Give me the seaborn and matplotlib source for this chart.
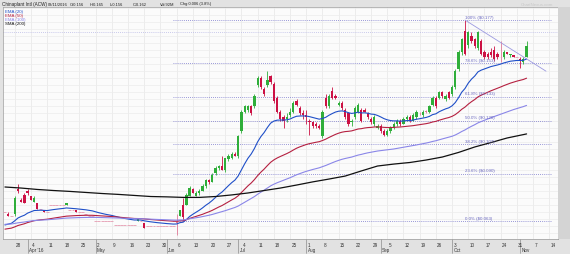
import numpy as np
import pandas as pd
import matplotlib
matplotlib.use("Agg")
import matplotlib.pyplot as plt
import seaborn as sns
from matplotlib.transforms import blended_transform_factory
from matplotlib.patches import Rectangle

sns.set_style("white")
plt.rcParams['font.family'] = ['Liberation Sans', 'DejaVu Sans']

# ---------------- data ----------------
dates = pd.bdate_range("2016-03-23", "2016-11-03")
opens = [0.068,0.067,0.066,0.067,0.081,0.075,0.078,0.080,0.077,0.074,
         0.073,0.070,0.069,0.068,0.072,0.072,0.072,0.072,0.072,0.072,
         0.069,0.069,0.069,0.068,0.068,0.067,0.066,0.066,0.063,0.063,
         0.063,0.063,0.063,0.063,0.061,0.061,0.061,0.061,0.061,0.061,
         0.061,0.063,0.063,0.062,0.060,0.060,0.060,0.060,0.060,0.060,
         0.060,0.060,0.060,0.062,0.066,0.072,0.072,0.077,0.081,0.077,
         0.079,0.080,0.083,0.086,0.085,0.090,0.093,0.094,0.092,0.098,
         0.099,0.101,0.100,0.114,0.125,0.126,0.128,0.128,0.140,0.144,
         0.138,0.140,0.145,0.141,0.133,0.125,0.122,0.121,0.123,0.125,
         0.131,0.127,0.124,0.123,0.120,0.119,0.118,0.117,0.111,0.133,
         0.128,0.137,0.134,0.129,0.130,0.126,0.124,0.119,0.122,0.125,
         0.126,0.126,0.124,0.121,0.118,0.116,0.117,0.114,0.112,0.114,
         0.116,0.118,0.120,0.118,0.121,0.122,0.120,0.122,0.124,0.123,
         0.125,0.125,0.129,0.133,0.133,0.136,0.132,0.136,0.135,0.139,
         0.149,0.159,0.171,0.163,0.168,0.166,0.161,0.165,0.159,0.158,
         0.159,0.160,0.158,0.157,0.156,0.159,0.157,0.157,0.156,0.155,
         0.153,0.156]
highs = [0.068,0.068,0.066,0.077,0.084,0.076,0.079,0.081,0.077,0.077,
         0.073,0.070,0.069,0.068,0.072,0.072,0.072,0.072,0.072,0.073,
         0.069,0.069,0.069,0.068,0.068,0.067,0.066,0.066,0.063,0.063,
         0.063,0.063,0.063,0.063,0.061,0.061,0.061,0.061,0.061,0.061,
         0.061,0.064,0.063,0.062,0.060,0.060,0.060,0.060,0.060,0.060,
         0.060,0.060,0.060,0.067,0.069,0.076,0.079,0.083,0.082,0.080,
         0.081,0.084,0.087,0.087,0.090,0.094,0.095,0.100,0.099,0.101,
         0.102,0.102,0.112,0.126,0.129,0.129,0.129,0.135,0.145,0.145,
         0.139,0.148,0.146,0.142,0.134,0.126,0.123,0.124,0.127,0.131,
         0.132,0.128,0.126,0.126,0.121,0.120,0.119,0.118,0.126,0.135,
         0.135,0.139,0.135,0.131,0.131,0.127,0.125,0.121,0.128,0.130,
         0.127,0.127,0.125,0.122,0.123,0.118,0.118,0.115,0.115,0.117,
         0.119,0.121,0.121,0.122,0.123,0.123,0.124,0.126,0.125,0.126,
         0.126,0.129,0.134,0.134,0.137,0.137,0.135,0.137,0.140,0.149,
         0.160,0.167,0.177,0.171,0.170,0.167,0.171,0.166,0.160,0.159,
         0.161,0.162,0.159,0.165,0.160,0.159,0.158,0.157,0.156,0.156,
         0.156,0.165]
lows =  [0.068,0.066,0.066,0.066,0.079,0.074,0.073,0.078,0.075,0.074,
         0.070,0.070,0.068,0.068,0.072,0.072,0.072,0.072,0.072,0.072,
         0.069,0.069,0.068,0.068,0.068,0.067,0.066,0.066,0.063,0.063,
         0.063,0.063,0.063,0.063,0.061,0.061,0.061,0.061,0.061,0.061,
         0.061,0.063,0.063,0.059,0.060,0.060,0.060,0.060,0.060,0.060,
         0.060,0.060,0.060,0.055,0.066,0.063,0.072,0.077,0.079,0.077,
         0.078,0.080,0.082,0.084,0.085,0.089,0.092,0.092,0.091,0.097,
         0.098,0.100,0.099,0.113,0.124,0.125,0.123,0.127,0.139,0.138,
         0.134,0.139,0.141,0.130,0.124,0.120,0.116,0.119,0.122,0.124,
         0.128,0.123,0.121,0.118,0.112,0.116,0.116,0.115,0.110,0.127,
         0.127,0.132,0.132,0.128,0.126,0.121,0.117,0.117,0.121,0.124,
         0.119,0.125,0.121,0.118,0.117,0.115,0.113,0.111,0.111,0.113,
         0.115,0.117,0.117,0.118,0.120,0.119,0.120,0.121,0.123,0.122,
         0.124,0.124,0.128,0.127,0.132,0.133,0.131,0.132,0.134,0.138,
         0.148,0.157,0.157,0.161,0.164,0.161,0.160,0.157,0.155,0.155,
         0.156,0.154,0.155,0.153,0.155,0.158,0.156,0.156,0.156,0.150,
         0.152,0.156]
closes = [0.068,0.066,0.066,0.076,0.080,0.074,0.073,0.079,0.075,0.076,
          0.070,0.070,0.068,0.068,0.072,0.072,0.072,0.072,0.072,0.073,
          0.069,0.069,0.068,0.068,0.068,0.067,0.066,0.066,0.063,0.063,
          0.063,0.063,0.063,0.063,0.061,0.061,0.061,0.061,0.061,0.061,
          0.061,0.064,0.063,0.059,0.060,0.060,0.060,0.060,0.060,0.060,
          0.060,0.060,0.060,0.062,0.069,0.065,0.078,0.082,0.079,0.079,
          0.080,0.083,0.086,0.085,0.089,0.093,0.094,0.092,0.099,0.100,
          0.101,0.100,0.111,0.125,0.128,0.128,0.124,0.134,0.144,0.139,
          0.135,0.143,0.142,0.131,0.125,0.121,0.120,0.122,0.125,0.130,
          0.129,0.124,0.123,0.122,0.119,0.117,0.117,0.116,0.125,0.128,
          0.134,0.133,0.133,0.130,0.127,0.122,0.118,0.120,0.127,0.129,
          0.120,0.125,0.122,0.119,0.122,0.117,0.114,0.112,0.114,0.116,
          0.118,0.120,0.118,0.121,0.122,0.120,0.123,0.125,0.124,0.125,
          0.125,0.128,0.133,0.128,0.136,0.134,0.134,0.133,0.139,0.148,
          0.159,0.166,0.158,0.170,0.165,0.162,0.170,0.158,0.156,0.156,
          0.157,0.155,0.156,0.157,0.159,0.158,0.158,0.156,0.156,0.154,
          0.155,0.162]

# moving-average starting values
ema20_start, ema50_start, ema100_start = 0.060, 0.058, 0.061
# SMA(200) every 5 sessions
sma200_idx = [0,5,10,15,20,25,30,35,40,45,50,55,60,65,70,75,80,85,90,95,
              100,105,110,115,120,125,130,135,140,145,150,155,161]
sma200_val = [0.0823,0.0817,0.0809,0.0803,0.0798,0.0792,0.0786,0.0781,0.0775,
              0.0769,0.0767,0.0764,0.0764,0.0769,0.0778,0.0789,0.0803,0.0817,
              0.0834,0.0852,0.0868,0.0885,0.0914,0.0942,0.0953,0.0962,0.0976,
              0.0993,0.1019,0.1050,0.1075,0.1101,0.1124]

# Fibonacci retracement and trend line
fib_high, fib_low = 0.177, 0.063
fib_levels = [1.0, 0.786, 0.618, 0.5, 0.382, 0.236, 0.0]
fib_names = ["100%", "78.6%", "61.8%", "50.0%", "38.2%", "23.6%", "0.0%"]
fib_span = (52, 169)
fib_label_idx = 142
level_line = 0.170
trend_x = [142, 167]
trend_y = [0.177, 0.148]

# ---------------- derived ----------------
O = np.array(opens); H = np.array(highs); L = np.array(lows); C = np.array(closes)
n = len(C)
idx = np.arange(n)

def ema(seed, span):
    a = 2.0 / (span + 1)
    v = seed
    out = []
    for c in C:
        v = v + a * (c - v)
        out.append(v)
    return np.array(out)

ema20 = ema(ema20_start, 20)
ema50 = ema(ema50_start, 50)
ema100 = ema(ema100_start, 100)

GREEN = "#2fae3a"
RED = "#cc1144"

fig = plt.figure(figsize=(5.7, 2.55), dpi=100)
fig.patch.set_facecolor("#e2e2e2")
ax = fig.add_axes([3/570, 15/255, 555/570, 232/255])
ax.set_facecolor("#fbfbfb")
ax.set_xlim(-0.6, 170.7)
ax.set_ylim(0.0528, 0.1844)

# right label band
fig.patches.append(Rectangle((558/570, 15/255), 12/570, 232/255,
                             transform=fig.transFigure, facecolor="#d4d4d4",
                             edgecolor="none", zorder=0))

# grid
all_days = pd.bdate_range("2016-03-23", "2016-11-18")
mondays = [k for k, d in enumerate(all_days) if d.weekday() == 0]
monday_lbl = [str(all_days[k].day) for k in mondays]
yt = np.round(np.arange(0.056, 0.1845, 0.004), 3)
for k in mondays:
    ax.axvline(k, color="#e6e6e6", lw=0.5, zorder=0)
for v in yt:
    ax.axhline(v, color="#ececec", lw=0.5, zorder=0)

# candles
col = np.where(C > O, GREEN, np.where(C < O, RED, "#e07a98"))
flat = (H == L)
body_lo = np.minimum(O, C)
body_h = np.abs(C - O)
ax.vlines(idx[~flat], L[~flat], H[~flat], colors=col[~flat], lw=0.6, zorder=3)
ax.bar(idx[~flat], np.maximum(body_h[~flat], 0.0003), bottom=body_lo[~flat],
       width=0.7, color=col[~flat], linewidth=0, zorder=4)
ax.hlines(C[flat], idx[flat] - 0.45, idx[flat] + 0.45, colors="#e59ab0", lw=0.6, zorder=3)

# moving averages
sns.lineplot(x=idx, y=ema20, ax=ax, color="#1f4fc8", lw=0.8, legend=False, zorder=5)
sns.lineplot(x=idx, y=ema50, ax=ax, color="#b52040", lw=0.8, legend=False, zorder=5)
sns.lineplot(x=idx, y=ema100, ax=ax, color="#8a86e8", lw=0.8, legend=False, zorder=5)
sns.lineplot(x=sma200_idx, y=sma200_val, ax=ax, color="#111111", lw=0.9, legend=False, zorder=5)

# fibonacci lines
ax.axhline(level_line, color="#b8b8e6", lw=0.6, ls=(0, (1, 1.5)), zorder=2)
for lv, nm in zip(fib_levels, fib_names):
    val = fib_low + lv * (fib_high - fib_low)
    ax.hlines(val, fib_span[0], fib_span[1], colors="#7a78cc", lw=0.6,
              linestyles=[(0, (1, 1.5))], zorder=2)
    ax.text(fib_label_idx, val + 0.0008, f"{nm} (\\${val:.3f})", fontsize=3.2,
            color="#6a68c0", ha="left", va="bottom", zorder=6)
ax.plot(trend_x, trend_y, color="#9c9ae0", lw=0.6, zorder=5)

# axes styling
for s in ax.spines.values():
    s.set_color("#9a9a9a"); s.set_linewidth(0.5)
ax.yaxis.tick_right()
ax.set_yticks(yt)
ax.set_yticklabels([f"{v:.3f}" for v in yt], fontsize=3.2, color="#333333")
ax.tick_params(axis="y", length=0, pad=1.5)
ax.set_xticks(mondays)
ax.set_xticklabels([])
ax.tick_params(axis="x", length=2, width=0.4, color="#777777")

tr = blended_transform_factory(ax.transData, ax.transAxes)
for k, lb in zip(mondays, monday_lbl):
    ax.text(k + 0.4, -0.012, lb, transform=tr, fontsize=3.3, color="#333333",
            ha="left", va="top", clip_on=False)
month_names = {4: "Apr '16", 5: "May", 6: "Jun", 7: "Jul", 8: "Aug",
               9: "Sep", 10: "Oct", 11: "Nov"}
seen = set()
for k, d in enumerate(all_days):
    if d.month in month_names and d.month not in seen and d >= pd.Timestamp("2016-04-01"):
        seen.add(d.month)
        ax.plot([k, k], [0, -0.06], transform=tr, color="#777777", lw=0.4, clip_on=False)
        ax.text(k + 0.4, -0.036, month_names[d.month], transform=tr, fontsize=3.3,
                color="#333333", ha="left", va="top", clip_on=False)

# legend text
leg = [("EMA (20)", "#1f4fc8"), ("EMA (50)", "#b52040"),
       ("EMA (100)", "#8a86e8"), ("SMA (200)", "#111111")]
for j, (t, c) in enumerate(leg):
    fig.text(5/570, 1 - (11.7 + 4.2*j)/255, t, fontsize=3.2, color=c, va="center")

# header
hdr = [("Chinaplant Intl (ACW)", 2, 3.3), ("03/11/2016", 48, 2.9),
       ("O:0.156", 70, 2.9), ("H:0.165", 90, 2.9), ("L:0.156", 110, 2.9),
       ("C:0.162", 133, 2.9), ("Vol:92M", 160, 2.9), ("Chg:0.006 (3.8%)", 180, 2.9)]
for t, x, fs in hdr:
    fig.text(x/570, 1 - 4.5/255, t, fontsize=fs, color="#222222", va="center")
fig.text(553/570, 1 - 5/255, "ChartNexus.com", fontsize=3.2, color="#c8c8c8",
         va="center", ha="right")

fig.savefig("out.png", dpi=100, facecolor=fig.get_facecolor())
